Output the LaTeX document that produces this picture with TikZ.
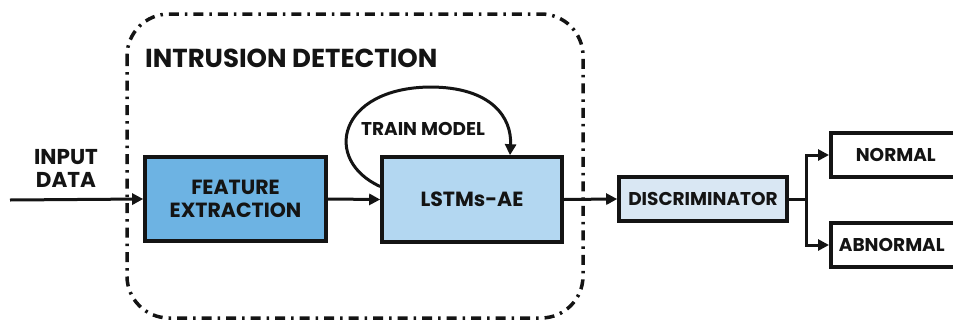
\documentclass[tikz,border=0pt]{standalone}
\usepackage{fontspec}
\setmainfont{Poppins}
\usetikzlibrary{arrows.meta,calc}
\definecolor{ink}{HTML}{141414}
\definecolor{featblue}{HTML}{6DB3E3}
\definecolor{lstmblue}{HTML}{B3D7F1}
\definecolor{discblue}{HTML}{D9E7F3}
\tikzset{
  big/.style={font=\bfseries\fontsize{20.5}{24}\selectfont},
  small/.style={font=\bfseries\fontsize{18.5}{22}\selectfont},
  box/.style={draw=ink, line width=3.6pt, inner sep=0pt, big, text=ink, align=center},
  label/.style={big, text=ink, align=center, inner sep=0pt},
  conn/.style={draw=ink, line width=3pt, -{Triangle[length=11pt,width=11pt]}},
  frame/.style={draw=ink, line width=3.5pt, rounded corners=42pt, dash pattern=on 10pt off 6pt on 2.5pt off 6pt}
}
\begin{document}
\begin{tikzpicture}[x=1pt,y=-1pt]
\useasboundingbox (0,0) rectangle (953,322);
\clip (0,0) rectangle (953,322);
% dashed boundary of the detection stage
\draw[frame] (127,14) rectangle (583,318);
\node[label, font=\bfseries\fontsize{26}{30}\selectfont, anchor=west] (title) at (145,58) {INTRUSION DETECTION};
% processing blocks
\node[box, fill=featblue, minimum width=181pt, minimum height=84pt] (feat) at (235.5,199) {FEATURE\\[-1pt]EXTRACTION};
\node[box, fill=lstmblue, minimum width=180pt, minimum height=85pt] (lstm) at (472,199.5) {LSTMs-AE};
\node[box, fill=discblue, minimum width=168pt, minimum height=44pt, small] (disc) at (703,199) {DISCRIMINATOR};
\node[box, fill=white, minimum width=150pt, minimum height=44pt, anchor=west, small] (normal) at (829,155) {\hspace*{-20pt}NORMAL};
\node[box, fill=white, minimum width=150pt, minimum height=44pt, anchor=west, small] (abnormal) at (829,245) {\hspace*{-28pt}ABNORMAL};
% input
\node[label, font=\bfseries\fontsize{21.5}{25}\selectfont] (input) at (66,168) {INPUT\\[-2pt]DATA};
\coordinate (src) at (10,200);
\draw[conn] (src) -- (feat.west);
\draw[conn] (feat.east) -- (lstm.west);
\draw[conn] (lstm.east) -- (disc.west);
% training feedback loop
\node[label, small] (train) at (423,129) {TRAIN MODEL};
\draw[conn] ($(lstm.west)+(0,-13)$) .. controls (322,160) and (338,88) .. (430,87)
  .. controls (492,87) and (512,118) .. ($(lstm.north)+(38,0)$);
% split to the two outcomes
\coordinate (split) at (806,199);
\draw[draw=ink, line width=3pt] (disc.east) -- (split);
\draw[conn] (split) |- (normal.west);
\draw[conn] (split) |- (abnormal.west);
\end{tikzpicture}
\end{document}
